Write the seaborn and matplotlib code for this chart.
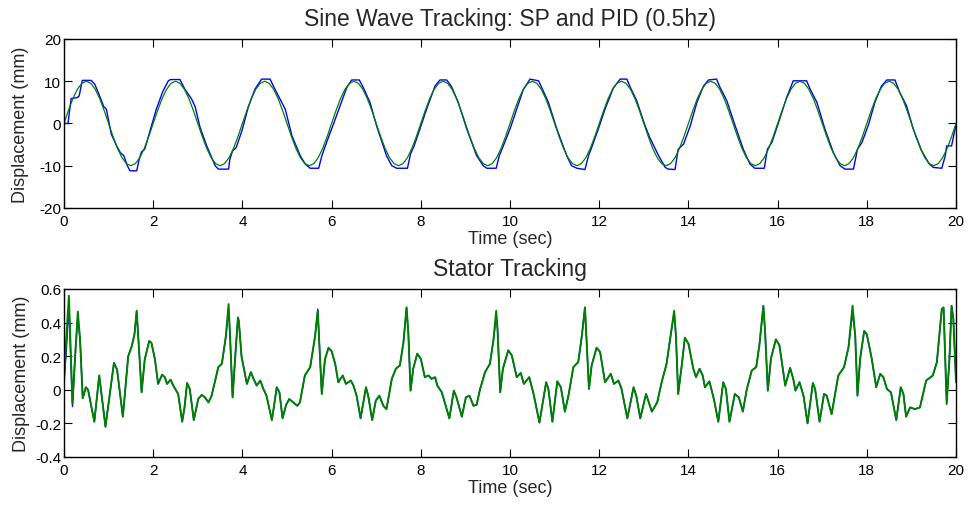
import numpy as np
import pandas as pd
import seaborn as sns
import matplotlib
matplotlib.use("Agg")
import matplotlib.pyplot as plt

sns.set_style("ticks")
plt.rcParams["font.family"] = ["Liberation Sans", "DejaVu Sans"]
plt.rcParams["axes.unicode_minus"] = False

# ---- top panel: sine set point (green) and measured (blue), mm ----
sine_sp_time = np.round(np.arange(0, 20.05, 0.1), 1)
sine_sp = [
    0, 3.1, 5.9, 8.1, 9.5, 10, 9.5, 8.1, 5.9, 3.1, 0, -3.1, -5.9, -8.1, -9.5, -10, -9.5, -8.1, -5.9, -3.1,
    0, 3.1, 5.9, 8.1, 9.5, 10, 9.5, 8.1, 5.9, 3.1, 0, -3.1, -5.9, -8.1, -9.5, -10, -9.5, -8.1, -5.9, -3.1,
    0, 3.1, 5.9, 8.1, 9.5, 10, 9.5, 8.1, 5.9, 3.1, 0, -3.1, -5.9, -8.1, -9.5, -10, -9.5, -8.1, -5.9, -3.1,
    0, 3.1, 5.9, 8.1, 9.5, 10, 9.5, 8.1, 5.9, 3.1, 0, -3.1, -5.9, -8.1, -9.5, -10, -9.5, -8.1, -5.9, -3.1,
    0, 3.1, 5.9, 8.1, 9.5, 10, 9.5, 8.1, 5.9, 3.1, 0, -3.1, -5.9, -8.1, -9.5, -10, -9.5, -8.1, -5.9, -3.1,
    0, 3.1, 5.9, 8.1, 9.5, 10, 9.5, 8.1, 5.9, 3.1, 0, -3.1, -5.9, -8.1, -9.5, -10, -9.5, -8.1, -5.9, -3.1,
    0, 3.1, 5.9, 8.1, 9.5, 10, 9.5, 8.1, 5.9, 3.1, 0, -3.1, -5.9, -8.1, -9.5, -10, -9.5, -8.1, -5.9, -3.1,
    0, 3.1, 5.9, 8.1, 9.5, 10, 9.5, 8.1, 5.9, 3.1, 0, -3.1, -5.9, -8.1, -9.5, -10, -9.5, -8.1, -5.9, -3.1,
    0, 3.1, 5.9, 8.1, 9.5, 10, 9.5, 8.1, 5.9, 3.1, 0, -3.1, -5.9, -8.1, -9.5, -10, -9.5, -8.1, -5.9, -3.1,
    0, 3.1, 5.9, 8.1, 9.5, 10, 9.5, 8.1, 5.9, 3.1, 0, -3.1, -5.9, -8.1, -9.5, -10, -9.5, -8.1, -5.9, -3.1,
    0,
]

sine_pid_time = [
    0.00, 0.09, 0.16, 0.29, 0.34, 0.41, 0.61, 0.69, 0.80, 0.89, 0.95, 1.06, 1.18, 1.27, 1.34, 1.42,
    1.48, 1.63, 1.69, 1.74, 1.81, 1.93, 2.07, 2.22, 2.34, 2.39, 2.60, 2.71, 2.86, 2.94, 3.05, 3.20,
    3.39, 3.46, 3.69, 3.72, 3.78, 3.86, 3.99, 4.13, 4.28, 4.43, 4.62, 4.73, 4.88, 4.96, 5.11, 5.30,
    5.41, 5.52, 5.71, 5.78, 5.86, 5.97, 6.04, 6.19, 6.34, 6.45, 6.62, 6.71, 6.86, 7.01, 7.23, 7.35,
    7.46, 7.70, 7.77, 7.85, 7.98, 8.13, 8.32, 8.43, 8.58, 8.69, 8.84, 9.03, 9.25, 9.40, 9.48, 9.69,
    9.76, 9.85, 10.00, 10.15, 10.30, 10.45, 10.64, 10.71, 10.86, 11.05, 11.27, 11.38, 11.50, 11.68,
    11.76, 11.83, 11.98, 12.13, 12.32, 12.47, 12.62, 12.69, 12.84, 13.03, 13.14, 13.33, 13.48, 13.55,
    13.70, 13.77, 13.89, 14.04, 14.19, 14.34, 14.45, 14.63, 14.71, 14.86, 15.05, 15.23, 15.38, 15.49,
    15.70, 15.77, 15.87, 16.02, 16.20, 16.35, 16.65, 16.73, 16.88, 17.06, 17.25, 17.40, 17.51, 17.70,
    17.79, 17.89, 18.04, 18.18, 18.33, 18.45, 18.63, 18.74, 18.89, 19.04, 19.23, 19.40, 19.49, 19.68,
    19.76, 19.79, 19.90, 20.00,
]
sine_pid = [
    0.0, 0.0, 5.9, 6.1, 6.5, 10.2, 10.2, 9.3, 6.5, 4.0, 3.4, -2.5, -5.3, -7.0, -7.6, -10.0,
    -11.2, -11.2, -8.3, -6.7, -6.1, -1.7, 3.4, 7.7, 10.1, 10.4, 10.4, 8.1, 5.8, 4.0, -0.9, -5.3,
    -10.0, -10.8, -10.8, -8.4, -6.5, -5.7, -1.7, 3.8, 8.1, 10.5, 10.5, 8.1, 5.0, 3.4, -2.9, -7.7,
    -9.6, -10.6, -10.6, -7.7, -5.3, -2.1, -0.2, 4.2, 8.5, 10.3, 10.3, 8.5, 5.0, -0.6, -7.6, -10.0,
    -10.6, -10.6, -7.2, -5.3, -1.3, 3.4, 8.9, 10.3, 10.3, 8.7, 5.0, -1.3, -7.6, -10.0, -10.6, -10.6,
    -7.6, -5.3, -1.3, 3.4, 8.1, 10.5, 10.1, 8.5, 5.0, -1.3, -7.6, -10.0, -10.6, -10.9,
    -7.6, -5.7, -1.3, 3.4, 8.5, 10.5, 10.5, 8.7, 5.4, -0.6, -3.5, -7.6, -10.4, -10.8,
    -10.9, -6.1, -4.9, -0.6, 5.0, 8.9, 10.3, 10.5, 8.5, 5.4, -0.6, -6.1, -9.6, -10.6,
    -10.6, -6.1, -4.5, 0.2, 6.1, 10.1, 10.1, 8.1, 5.0, -1.3, -6.9, -10.0, -10.8, -10.8,
    -6.1, -4.5, -0.2, 5.0, 8.9, 10.3, 10.3, 7.3, 4.2, -1.3, -6.5, -9.6, -10.4, -10.6,
    -7.6, -5.3, -5.3, -0.2,
]

# ---- bottom panel: stator displacement, mm ----
stator_time = [
    0.00, 0.05, 0.11, 0.19, 0.25, 0.31, 0.36, 0.42, 0.49, 0.54, 0.68, 0.79, 0.93, 1.12, 1.19, 1.32,
    1.44, 1.52, 1.58, 1.63, 1.74, 1.81, 1.91, 1.96, 2.04, 2.11, 2.20, 2.26, 2.31, 2.39, 2.45, 2.56,
    2.65, 2.70, 2.76, 2.82, 2.91, 3.01, 3.09, 3.16, 3.24, 3.31, 3.46, 3.54, 3.63, 3.69, 3.72, 3.78,
    3.84, 3.90, 3.92, 3.98, 4.10, 4.19, 4.25, 4.32, 4.40, 4.47, 4.54, 4.66, 4.69, 4.77, 4.83, 4.90,
    4.98, 5.05, 5.14, 5.23, 5.29, 5.40, 5.52, 5.63, 5.69, 5.72, 5.78, 5.85, 5.93, 6.00, 6.08, 6.15,
    6.25, 6.32, 6.43, 6.49, 6.56, 6.65, 6.77, 6.82, 6.91, 6.99, 7.07, 7.16, 7.23, 7.35, 7.44, 7.53,
    7.61, 7.68, 7.72, 7.77, 7.83, 7.92, 8.00, 8.09, 8.17, 8.24, 8.32, 8.37, 8.47, 8.64, 8.74, 8.80,
    8.92, 9.01, 9.09, 9.18, 9.25, 9.33, 9.44, 9.55, 9.63, 9.69, 9.72, 9.78, 9.84, 9.96, 10.04, 10.15,
    10.24, 10.31, 10.43, 10.52, 10.66, 10.81, 10.86, 10.95, 11.06, 11.14, 11.23, 11.31, 11.42, 11.53,
    11.61, 11.68, 11.72, 11.77, 11.83, 11.94, 12.02, 12.13, 12.26, 12.33, 12.43, 12.50, 12.63, 12.77,
    12.83, 12.92, 13.05, 13.18, 13.30, 13.40, 13.51, 13.60, 13.68, 13.72, 13.77, 13.85, 13.92, 14.00,
    14.11, 14.17, 14.25, 14.32, 14.37, 14.47, 14.57, 14.67, 14.78, 14.84, 14.92, 15.04, 15.13, 15.22,
    15.31, 15.42, 15.52, 15.59, 15.68, 15.72, 15.78, 15.85, 15.96, 16.04, 16.17, 16.28, 16.35, 16.40,
    16.49, 16.58, 16.67, 16.79, 16.84, 16.94, 17.04, 17.10, 17.21, 17.36, 17.49, 17.59, 17.68, 17.74,
    17.79, 17.85, 17.94, 18.00, 18.11, 18.21, 18.30, 18.37, 18.45, 18.54, 18.66, 18.76, 18.82, 18.88,
    18.97, 19.08, 19.19, 19.33, 19.48, 19.57, 19.68, 19.72, 19.79, 19.85, 19.90, 19.94, 20.00,
]
stator_sp = [
    0.05, 0.30, 0.56, -0.08, 0.20, 0.465, 0.30, -0.05, 0.015, 0.0, -0.19, 0.085, -0.22, 0.16, 0.12, -0.16,
    0.20, 0.26, 0.33, 0.47, -0.015, 0.18, 0.29, 0.28, 0.18, 0.035, 0.09, 0.075, 0.035, 0.06, 0.025, -0.025,
    -0.19, -0.11, 0.04, 0.005, -0.18, -0.055, -0.03, -0.045, -0.075, -0.035, 0.135, 0.155, 0.32, 0.51, 0.34, -0.045,
    0.20, 0.43, 0.41, 0.20, 0.035, 0.105, 0.065, 0.025, 0.055, 0.005, -0.035, -0.18, -0.13, 0.015, -0.015, -0.17,
    -0.09, -0.055, -0.075, -0.095, -0.075, 0.085, 0.135, 0.32, 0.47, 0.30, -0.025, 0.18, 0.25, 0.23, 0.155, 0.045,
    0.085, 0.035, 0.055, 0.025, -0.035, -0.17, 0.015, -0.035, -0.18, -0.065, -0.035, -0.095, -0.115, 0.065, 0.125, 0.145,
    0.28, 0.49, 0.34, -0.005, 0.125, 0.215, 0.185, 0.075, 0.085, 0.065, 0.075, 0.025, -0.015, -0.17, -0.005, -0.045,
    -0.16, -0.045, -0.035, -0.095, -0.09, 0.005, 0.105, 0.155, 0.30, 0.47, 0.36, -0.015, 0.125, 0.235, 0.205, 0.075,
    0.10, 0.035, 0.075, -0.015, -0.195, 0.045, 0.005, -0.19, 0.05, 0.015, -0.13, -0.035, 0.135, 0.165,
    0.32, 0.49, 0.28, 0.005, 0.145, 0.25, 0.225, 0.045, 0.095, 0.035, 0.055, 0.005, -0.17, 0.015,
    -0.035, -0.17, -0.025, -0.13, -0.075, 0.045, 0.155, 0.32, 0.47, 0.32, -0.025, 0.145, 0.31, 0.275,
    0.125, 0.075, 0.125, 0.085, 0.015, 0.05, -0.055, -0.19, 0.045, 0.005, -0.19, -0.025, -0.045, -0.13,
    0.005, 0.115, 0.135, 0.265, 0.50, 0.34, -0.005, 0.185, 0.30, 0.265, 0.025, 0.13, 0.065, -0.005,
    0.045, -0.035, -0.20, 0.04, 0.005, -0.19, -0.025, -0.035, -0.145, 0.085, 0.135, 0.255, 0.50, 0.32,
    -0.035, 0.185, 0.35, 0.33, 0.185, 0.015, 0.095, 0.075, 0.005, -0.015, -0.18, 0.015, -0.025, -0.16,
    -0.105, -0.115, -0.105, 0.055, 0.085, 0.165, 0.48, 0.49, -0.085, 0.175, 0.50, 0.42, 0.045,
]
# measured stator trace, where it visibly differs from the set point
stator_measured_diff = {0.05: 0.22, 0.11: 0.50, 0.19: -0.10, 0.31: 0.44, 3.69: 0.48, 5.69: 0.48,
                        9.69: 0.44, 13.68: 0.46, 17.68: 0.46, 19.79: -0.07}
stator_measured = [stator_measured_diff.get(t, v) for t, v in zip(stator_time, stator_sp)]

BLUE = "#0000ff"
GREEN = "#008000"

fig = plt.figure(figsize=(9.71, 5.06), dpi=100)
ax1 = fig.add_axes([0.0659, 0.587, 0.9187, 0.334])
ax2 = fig.add_axes([0.0659, 0.0949, 0.9187, 0.332])

sns.lineplot(x=sine_pid_time, y=sine_pid, ax=ax1, color=BLUE, linewidth=1.0,
             estimator=None, sort=False)
sns.lineplot(x=sine_sp_time, y=sine_sp, ax=ax1, color=GREEN, linewidth=0.9,
             estimator=None, sort=False)

sns.lineplot(x=stator_time, y=stator_measured, ax=ax2, color=BLUE, linewidth=1.0,
             estimator=None, sort=False)
sns.lineplot(x=stator_time, y=stator_sp, ax=ax2, color=GREEN, linewidth=1.4,
             estimator=None, sort=False)

ax1.set_ylim(-20, 20)
ax1.set_yticks([-20, -10, 0, 10, 20])
ax1.set_yticklabels(["-20", "-10", "0", "10", "20"])
ax1.set_title("Sine Wave Tracking: SP and PID (0.5hz)", fontsize=16.5, pad=10)

ax2.set_ylim(-0.4, 0.6)
ax2.set_yticks([-0.4, -0.2, 0, 0.2, 0.4, 0.6])
ax2.set_yticklabels(["-0.4", "-0.2", "0", "0.2", "0.4", "0.6"])
ax2.set_title("Stator Tracking", fontsize=16.5, pad=10)

for ax, ypad in [(ax1, 7.5), (ax2, 4)]:
    ax.set_xlim(0, 20)
    ax.set_xticks(range(0, 21, 2))
    ax.set_xlabel("Time (sec)", fontsize=13, labelpad=1)
    ax.set_ylabel("Displacement (mm)", fontsize=13, labelpad=ypad)
    ax.tick_params(direction="in", length=6, width=0.8, top=True, right=True,
                   labelsize=11, colors="black")
    ax.tick_params(axis="x", pad=4.5)
    ax.tick_params(axis="y", pad=2)
    for side in ["left", "right", "top", "bottom"]:
        ax.spines[side].set_visible(True)
        ax.spines[side].set_color("black")
        ax.spines[side].set_linewidth(1.0)
    ax.set_facecolor("white")

fig.savefig("out.png", dpi=100)
